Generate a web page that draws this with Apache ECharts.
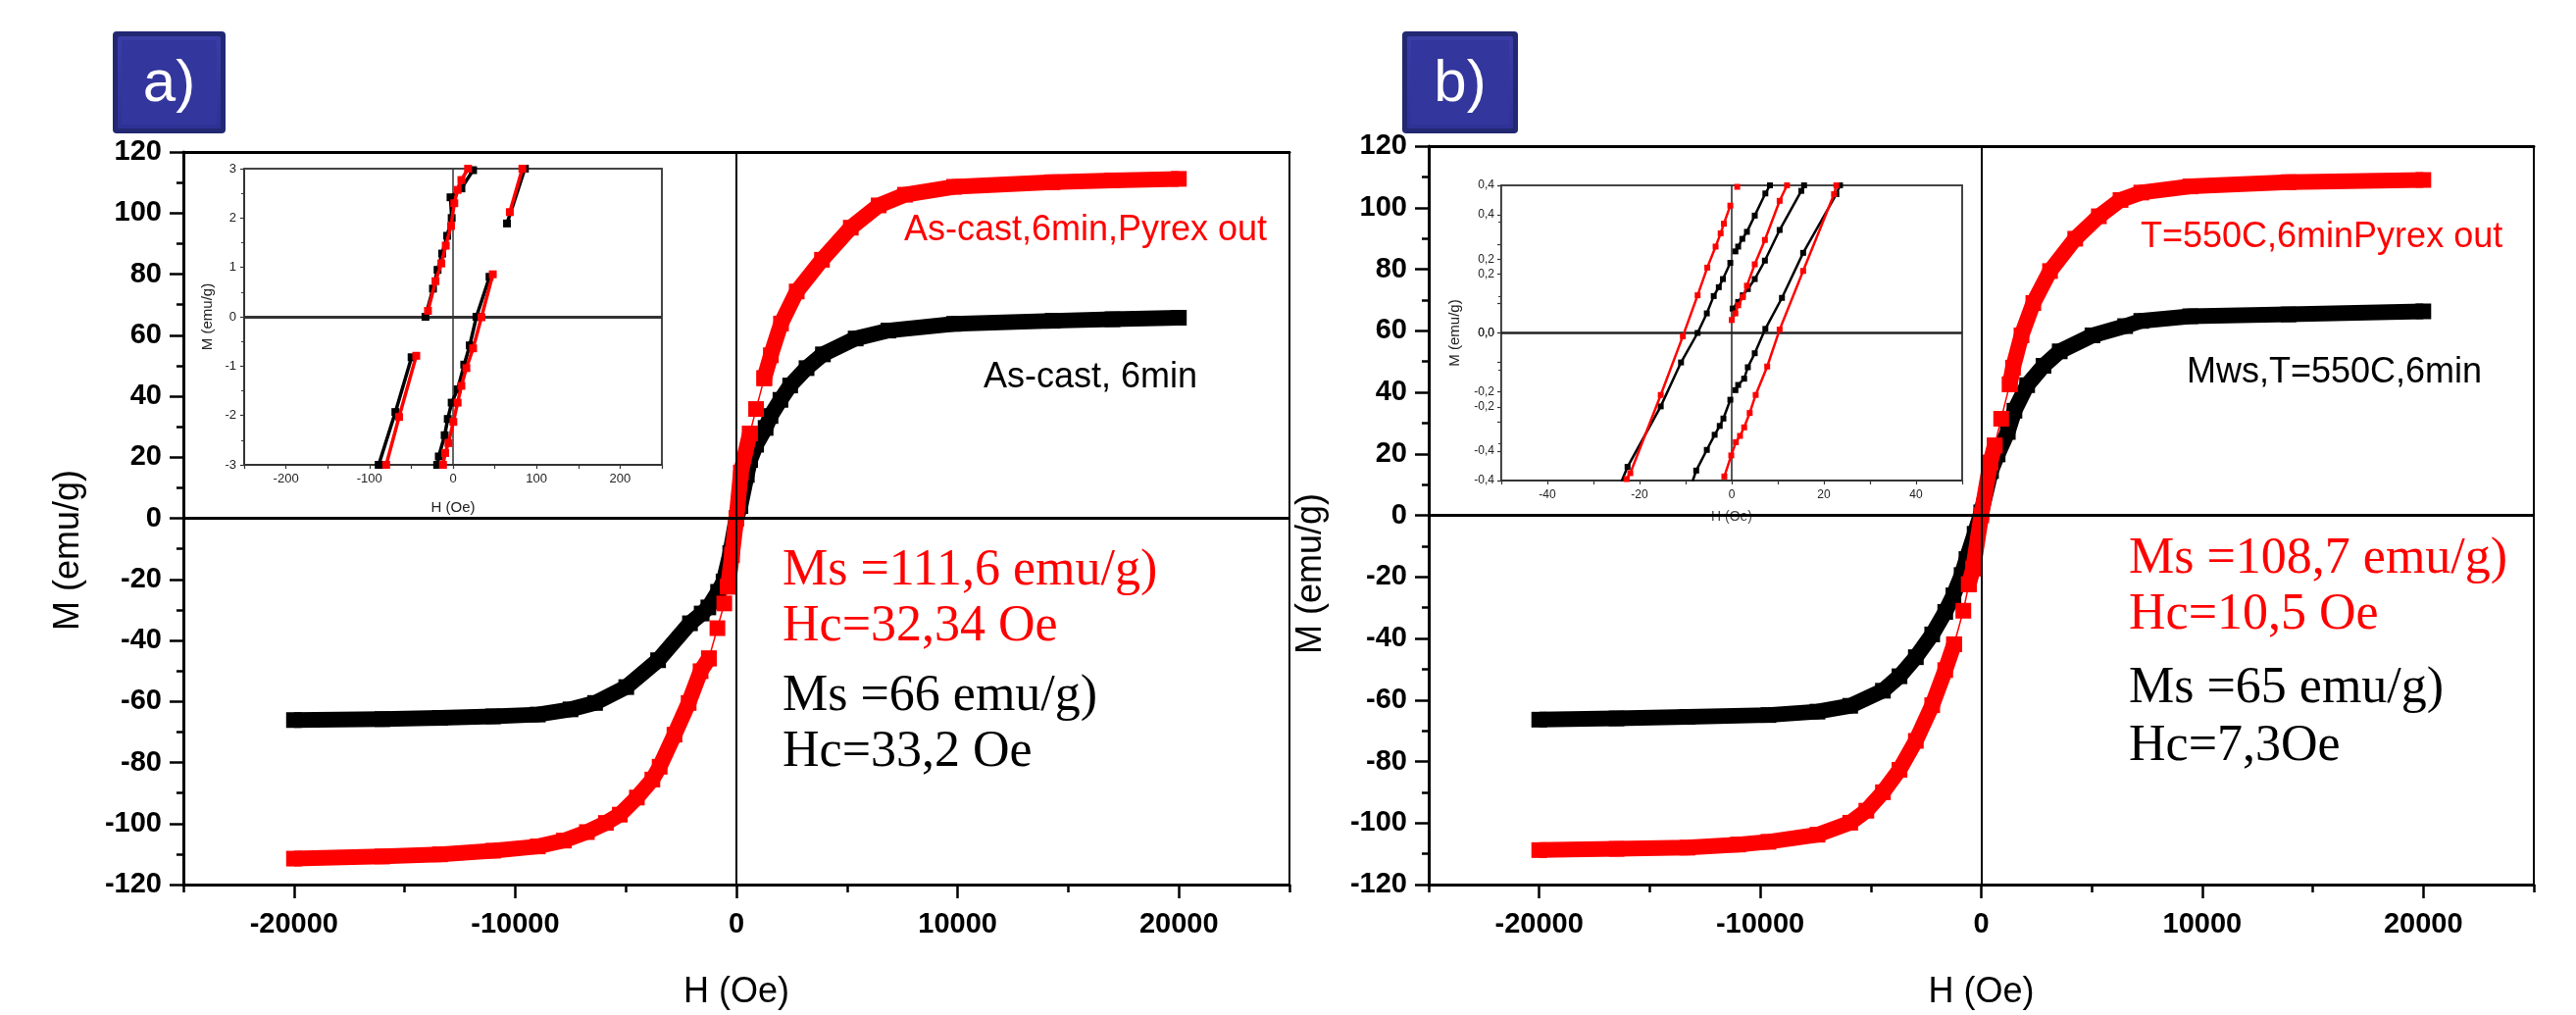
<!DOCTYPE html>
<html><head><meta charset="utf-8">
<script src="https://cdn.jsdelivr.net/npm/echarts@6/dist/echarts.min.js"></script>
<style>html,body{margin:0;padding:0;background:#fff}#c{width:2627px;height:1035px}</style>
</head><body><div id="c"></div>
<script>
// ---------------- DATA ----------------
// main-axis tick values
const H_TICKS_MAIN = [-20000, -10000, 0, 10000, 20000];
const H_MINOR_MAIN = [-25000, -15000, -5000, 5000, 15000, 25000];

// Panel a) main loop  [H (Oe), M (emu/g)]
const A_BLACK = [[-20000,-66.1],[-16000,-65.8],[-13400,-65.4],[-11000,-64.9],[-8980,-64.3],[-7500,-62.6],[-6390,-60.5],[-4980,-55.3],[-3540,-46.5],[-2100,-34.4],[-1570,-31.2],[-1270,-29.2],[-830,-24.1],[-580,-20.7],[-280,-11.4],[0,0],[180,4],[470,14.2],[620,19.1],[890,24.1],[1320,29.6],[1540,33.5],[1990,38.8],[2430,43.5],[3170,49.2],[3910,53.7],[5390,58.9],[6870,61.5],[9840,63.7],[14300,64.7],[17000,65.2],[20000,65.7]];
const A_RED_NEG = [[-20000,-111.5],[-16000,-110.8],[-13400,-110.1],[-11000,-108.9],[-8980,-107.5],[-7800,-105.6],[-6760,-102.8],[-5900,-99.8],[-5270,-97.1],[-4500,-91.5],[-3800,-85.6],[-3470,-81.4],[-2800,-70.9],[-2160,-60.5],[-1620,-50.1],[-1244,-45.9]];
const A_RED_GAP1 = [[-1244,-45.9],[-859,-36.0],[-548,-27.9],[-385,-22.4]];
const A_RED_MID = [[-385,-22.4],[-200,-12.0],[0,0],[200,15.0],[607,27.8]];
const A_RED_GAP2 = [[607,27.8],[889,35.8],[1259,45.9]];
const A_RED_POS = [[1259,45.9],[1556,53.4],[2015,63.8],[2726,74.3],[3867,84.7],[5170,95.2],[6430,102.5],[7620,106.0],[9840,108.6],[14280,110.1],[17000,110.7],[20000,111.2]];

// Panel a) inset (low-field detail)
const IA_BLK_1 = [[24,2.97],[10,2.6],[-3,2.42],[-1.6,2.0],[-7,1.64],[-13,1.28],[-18.5,0.95],[-24,0.57],[-33,0.0]];
const IA_BLK_2 = [[86,3.0],[64.6,1.89]];
const IA_BLK_3 = [[43.7,0.81],[28,0],[20,-0.58],[13.4,-0.97],[5.5,-1.47],[-1.6,-1.74],[-6.3,-2.07],[-10,-2.4],[-17,-2.83],[-19,-3]];
const IA_BLK_4 = [[-49.6,-0.82],[-69,-1.93],[-89,-3]];
const IA_RED_1 = [[18,3.0],[10,2.77],[5.5,2.57],[1.5,2.3],[-2.4,1.84],[-8.7,1.44],[-14,1.08],[-21,0.72],[-30,0.12]];
const IA_RED_2 = [[83,3.0],[68,2.12]];
const IA_RED_3 = [[47.6,0.86],[34,-0.01],[24,-0.64],[16,-1.04],[10,-1.4],[5.5,-1.74],[0.4,-2.13],[-5.5,-2.56],[-9.4,-2.76],[-12,-3]];
const IA_RED_4 = [[-44,-0.79],[-64.6,-2.03],[-80,-3]];

// Panel b) main loop
const B_BLACK = [[-20000,-66.4],[-16500,-66.0],[-13300,-65.5],[-9630,-64.9],[-7410,-63.8],[-5930,-61.9],[-4450,-57.0],[-3700,-52.3],[-2960,-46.1],[-2220,-38.7],[-1630,-31.4],[-1260,-26.0],[-890,-19.4],[-670,-14.2],[-300,-6.0],[0,1.0],[440,14.4],[740,19.8],[1200,27.1],[1500,34.0],[2075,42.3],[2815,48.6],[3550,53.3],[5030,58.5],[6510,61.5],[7240,63.2],[9460,64.7],[13900,65.3],[20000,66.3]];
const B_RED_NEG = [[-20000,-108.8],[-16500,-108.4],[-13300,-108.0],[-11000,-107.0],[-9630,-106.1],[-7410,-103.8],[-5930,-99.9],[-5200,-96.0],[-4450,-90.0],[-3700,-82.7],[-2960,-73.3],[-2220,-61.7],[-1630,-50.3],[-1230,-41.9]];
const B_RED_GAP1 = [[-1230,-41.9],[-812,-31.0],[-562,-22.4]];
const B_RED_MID = [[-562,-22.4],[-370,-17.3],[0,0],[413,17.2],[608,22.7]];
const B_RED_GAP2 = [[608,22.7],[900,31.4],[1290,42.6]];
const B_RED_POS = [[1290,42.6],[1436,48.0],[1820,58.5],[2355,69.0],[3110,79.4],[4250,89.9],[5320,97.2],[6300,102.5],[7240,104.9],[9460,106.9],[13900,108.3],[20000,109.0]];

// Panel b) inset
const IB_BLK_1 = [[-23.9,-0.402],[-22.6,-0.363],[-15.4,-0.199],[-11.0,-0.080],[-7.4,0],[-5.4,0.053],[-3.9,0.100],[-2.8,0.124],[-1.9,0.146],[-0.3,0.190]];
const IB_BLK_2 = [[0.8,0.221],[1.4,0.234],[2.3,0.255],[3.3,0.274],[5.0,0.318],[7.3,0.378],[8.3,0.40]];
const IB_BLK_3 = [[-8.5,-0.402],[-7.7,-0.373],[-5.4,-0.317],[-3.7,-0.276],[-2.6,-0.252],[-1.8,-0.232],[-0.3,-0.181]];
const IB_BLK_4 = [[0.8,-0.155],[1.4,-0.141],[2.7,-0.124],[3.5,-0.093],[5.0,-0.055],[7.3,0.011],[10.9,0.095],[15.5,0.217],[22.7,0.376],[23.5,0.40]];
const IB_BLK_5 = [[0.2,0.066],[1.4,0.084],[2.4,0.102],[3.5,0.119],[5.0,0.146],[7.2,0.196],[10.4,0.279],[15.1,0.385],[15.7,0.40]];
const IB_RED_1 = [[-22.8,-0.396],[-22.0,-0.380],[-15.4,-0.168],[-10.6,-0.009],[-7.4,0.102],[-5.3,0.177],[-3.5,0.234],[-2.4,0.270],[-1.7,0.296],[-0.3,0.345]];
const IB_RED_2 = [[1.2,0.396]];
const IB_RED_3 = [[0,0.035],[0.8,0.053],[1.4,0.075],[2.4,0.097],[3.3,0.128],[5.0,0.186],[7.2,0.252],[10.4,0.358],[12.0,0.40]];
const IB_RED_4 = [[-1.6,-0.389],[-0.1,-0.332],[0.9,-0.296],[1.8,-0.279],[2.7,-0.256],[3.9,-0.217],[5.2,-0.168],[7.7,-0.091],[10.4,0.009],[15.5,0.168],[22.2,0.376],[22.7,0.40]];

// annotation texts
const A_LABEL_RED = 'As-cast,6min,Pyrex out';
const A_LABEL_BLK = 'As-cast, 6min';
const B_LABEL_RED = 'T=550C,6minPyrex out';
const B_LABEL_BLK = 'Mws,T=550C,6min';
const A_INFO_RED = ['Ms =111,6 emu/g)', 'Hc=32,34 Oe'];
const A_INFO_BLK = ['Ms =66 emu/g)', 'Hc=33,2 Oe'];
const B_INFO_RED = ['Ms =108,7 emu/g)', 'Hc=10,5 Oe'];
const B_INFO_BLK = ['Ms =65 emu/g)', 'Hc=7,3Oe'];

// ---------------- CHART ----------------
const SANS = '"Liberation Sans", Arial, sans-serif';
const SERIF = '"Liberation Serif", "Times New Roman", serif';
const RED = '#ff0000', BLK = '#000000';
const BAND = 16;

const chart = echarts.init(document.getElementById('c'), null, {renderer: 'canvas'});

function comma(v) {
  const r = Math.round(v * 10) / 10;
  return (Math.abs(r) < 1e-9 ? 0 : r).toFixed(1).replace('.', ',');
}

function ser(data, color, xi, yi, lw, sz, z) {
  return {
    type: 'line', xAxisIndex: xi, yAxisIndex: yi, data: data,
    symbol: 'rect', symbolSize: sz, showSymbol: true,
    lineStyle: {color: color, width: lw, cap: 'butt', join: 'miter'},
    itemStyle: {color: color, borderWidth: 0},
    silent: true, animation: false, z: z || 2, emphasis: {disabled: true}
  };
}
function zeroLines(xi, yi, c, wy, wx) {
  return {
    type: 'line', xAxisIndex: xi, yAxisIndex: yi, data: [], silent: true, animation: false, z: 1,
    markLine: {
      silent: true, symbol: ['none', 'none'], label: {show: false}, animation: false,
      data: [
        {yAxis: 0, lineStyle: {color: c, width: wy, type: 'solid'}},
        {xAxis: 0, lineStyle: {color: c, width: wx, type: 'solid'}}
      ]
    }
  };
}
function lineOnly(grid, pos, min, max, w, c) {
  return {
    gridIndex: grid, type: 'value', position: pos, min: min, max: max,
    axisLine: {show: true, onZero: false, lineStyle: {color: c, width: w}},
    axisTick: {show: false}, axisLabel: {show: false}, splitLine: {show: false}
  };
}

const mainX = (grid) => ({
  gridIndex: grid, type: 'value', position: 'bottom', min: -25000, max: 25000,
  axisLine: {show: true, onZero: false, lineStyle: {color: '#000', width: 3}},
  axisTick: {show: true, customValues: H_TICKS_MAIN, length: 14, lineStyle: {color: '#000', width: 2.5}},
  axisLabel: {show: true, customValues: H_TICKS_MAIN, fontSize: 29, fontWeight: 'bold', fontFamily: SANS, color: '#000', margin: 26,
    formatter: v => String(Math.round(v))},
  splitLine: {show: false},
  name: 'H (Oe)', nameLocation: 'middle', nameGap: 92,
  nameTextStyle: {fontSize: 36, fontFamily: SANS, color: '#000'}
});
const mainXMinor = (grid) => ({
  gridIndex: grid, type: 'value', position: 'bottom', min: -25000, max: 25000,
  axisLine: {show: false, onZero: false},
  axisTick: {show: true, customValues: H_MINOR_MAIN, length: 8, lineStyle: {color: '#000', width: 2.5}},
  axisLabel: {show: false}, splitLine: {show: false}
});
const mainY = (grid) => ({
  gridIndex: grid, type: 'value', position: 'left', min: -120, max: 120, interval: 20,
  axisLine: {show: true, onZero: false, lineStyle: {color: '#000', width: 3}},
  axisTick: {show: true, length: 14, lineStyle: {color: '#000', width: 2.5}},
  minorTick: {show: true, splitNumber: 2, length: 7, lineStyle: {color: '#000', width: 2.5}},
  axisLabel: {fontSize: 29, fontWeight: 'bold', fontFamily: SANS, color: '#000', margin: 22},
  splitLine: {show: false}
});

const option = {
  backgroundColor: '#ffffff',
  animation: false,
  grid: [
    {left: 187, top: 155, width: 1128, height: 766, containLabel: false},
    {left: 249, top: 172, width: 426, height: 302, containLabel: false, show: true, backgroundColor: '#fff', borderWidth: 0},
    {left: 1457, top: 149, width: 1127, height: 766, containLabel: false},
    {left: 1531, top: 189, width: 470, height: 301, containLabel: false, show: true, backgroundColor: '#fff', borderWidth: 0}
  ],
  xAxis: [
    mainX(0),                                                    // 0
    mainXMinor(0),                                               // 1
    lineOnly(0, 'top', -25000, 25000, 3, '#000'),                // 2
    {                                                            // 3 inset a
      gridIndex: 1, type: 'value', position: 'bottom', min: -250, max: 250, interval: 50,
      axisLine: {show: true, onZero: false, lineStyle: {color: '#333', width: 2}},
      axisTick: {show: true, length: 4, lineStyle: {color: '#333', width: 1.2}},
      axisLabel: {fontSize: 13, fontFamily: SANS, color: '#222', margin: 8,
        formatter: v => (Math.round(v) % 100 === 0 ? String(Math.round(v)) : '')},
      splitLine: {show: false},
      name: 'H (Oe)', nameLocation: 'middle', nameGap: 36,
      nameTextStyle: {fontSize: 15, fontFamily: SANS, color: '#222'}
    },
    lineOnly(1, 'top', -250, 250, 2, '#444'),                    // 4
    mainX(2),                                                    // 5
    mainXMinor(2),                                               // 6
    lineOnly(2, 'top', -25000, 25000, 3, '#000'),                // 7
    {                                                            // 8 inset b
      gridIndex: 3, type: 'value', position: 'bottom', min: -50, max: 50, interval: 10,
      axisLine: {show: true, onZero: false, lineStyle: {color: '#333', width: 2}},
      axisTick: {show: true, length: 4, lineStyle: {color: '#333', width: 1.2}},
      axisLabel: {fontSize: 12, fontFamily: SANS, color: '#222', margin: 9,
        formatter: v => (Math.round(v) % 20 === 0 ? String(Math.round(v)) : '')},
      splitLine: {show: false},
      name: 'H (Oe)', nameLocation: 'middle', nameGap: 30,
      nameTextStyle: {fontSize: 14, fontFamily: SANS, color: '#444'}
    },
    lineOnly(3, 'top', -50, 50, 2, '#444')                       // 9
  ],
  yAxis: [
    mainY(0),                                                    // 0
    lineOnly(0, 'right', -120, 120, 2, '#000'),                  // 1
    {                                                            // 2 inset a
      gridIndex: 1, type: 'value', position: 'left', min: -3, max: 3, interval: 1,
      axisLine: {show: true, onZero: false, lineStyle: {color: '#333', width: 2}},
      axisTick: {show: true, length: 4, lineStyle: {color: '#333', width: 1.2}},
      minorTick: {show: true, splitNumber: 2, length: 3, lineStyle: {color: '#333', width: 1}},
      axisLabel: {fontSize: 13, fontFamily: SANS, color: '#222', margin: 8},
      splitLine: {show: false},
      name: 'M (emu/g)', nameLocation: 'middle', nameGap: 30,
      nameTextStyle: {fontSize: 15, fontFamily: SANS, color: '#222'}
    },
    lineOnly(1, 'right', -3, 3, 2, '#444'),                      // 3
    mainY(2),                                                    // 4
    lineOnly(2, 'right', -120, 120, 2, '#000'),                  // 5
    {                                                            // 6 inset b (primary)
      gridIndex: 3, type: 'value', position: 'left', min: -0.4, max: 0.4, interval: 0.2,
      axisLine: {show: true, onZero: false, lineStyle: {color: '#333', width: 2}},
      axisTick: {show: true, length: 4, lineStyle: {color: '#333', width: 1.2}},
      minorTick: {show: true, splitNumber: 2, length: 3, lineStyle: {color: '#333', width: 1}},
      axisLabel: {fontSize: 12, fontFamily: SANS, color: '#222', margin: 7, formatter: comma},
      splitLine: {show: false},
      name: 'M (emu/g)', nameLocation: 'middle', nameGap: 40,
      nameTextStyle: {fontSize: 15, fontFamily: SANS, color: '#222'}
    },
    {                                                            // 7 inset b (secondary overlapping scale)
      gridIndex: 3, type: 'value', position: 'left', min: -0.5, max: 0.5, interval: 0.1,
      axisLine: {show: true, onZero: false, lineStyle: {color: '#555', width: 1}},
      axisTick: {show: true, length: 4, lineStyle: {color: '#333', width: 1.2}},
      axisLabel: {fontSize: 12, fontFamily: SANS, color: '#222', margin: 7,
        formatter: v => { const k = Math.round(v * 10); return (k % 2 === 0 && Math.abs(k) <= 4) ? comma(k / 10) : ''; }},
      splitLine: {show: false}
    },
    lineOnly(3, 'right', -0.4, 0.4, 2, '#444')                   // 8
  ],
  series: [
    // panel a main
    zeroLines(0, 0, '#000', 3, 2),
    ser(A_BLACK, BLK, 0, 0, BAND, BAND, 3),
    ser(A_RED_NEG, RED, 0, 0, BAND, BAND, 4),
    ser(A_RED_MID, RED, 0, 0, BAND, BAND, 4),
    ser(A_RED_POS, RED, 0, 0, BAND, BAND, 4),
    ser(A_RED_GAP1, RED, 0, 0, 1.5, BAND, 4),
    ser(A_RED_GAP2, RED, 0, 0, 1.5, BAND, 4),
    // panel a inset
    zeroLines(3, 2, '#333', 3, 1.5),
    ser(IA_BLK_1, BLK, 3, 2, 3.5, 8, 5),
    ser(IA_BLK_2, BLK, 3, 2, 3.5, 8, 5),
    ser(IA_BLK_3, BLK, 3, 2, 3.5, 8, 5),
    ser(IA_BLK_4, BLK, 3, 2, 3.5, 8, 5),
    ser(IA_RED_1, RED, 3, 2, 3.5, 8, 6),
    ser(IA_RED_2, RED, 3, 2, 3.5, 8, 6),
    ser(IA_RED_3, RED, 3, 2, 3.5, 8, 6),
    ser(IA_RED_4, RED, 3, 2, 3.5, 8, 6),
    // panel b main
    zeroLines(5, 4, '#000', 3, 2),
    ser(B_BLACK, BLK, 5, 4, BAND, BAND, 3),
    ser(B_RED_NEG, RED, 5, 4, BAND, BAND, 4),
    ser(B_RED_MID, RED, 5, 4, BAND, BAND, 4),
    ser(B_RED_POS, RED, 5, 4, BAND, BAND, 4),
    ser(B_RED_GAP1, RED, 5, 4, 1.5, BAND, 4),
    ser(B_RED_GAP2, RED, 5, 4, 1.5, BAND, 4),
    // panel b inset
    zeroLines(8, 6, '#222', 2.5, 1.5),
    ser(IB_BLK_1, BLK, 8, 6, 2.5, 6, 5),
    ser(IB_BLK_2, BLK, 8, 6, 2.5, 6, 5),
    ser(IB_BLK_3, BLK, 8, 6, 2.5, 6, 5),
    ser(IB_BLK_4, BLK, 8, 6, 2.5, 6, 5),
    ser(IB_BLK_5, BLK, 8, 6, 2.5, 6, 5),
    ser(IB_RED_1, RED, 8, 6, 2.5, 6, 6),
    ser(IB_RED_2, RED, 8, 6, 2.5, 6, 6),
    ser(IB_RED_3, RED, 8, 6, 2.5, 6, 6),
    ser(IB_RED_4, RED, 8, 6, 2.5, 6, 6)
  ],
  graphic: []
};

function txt(x, y, s, font, fill, align, rot) {
  return {
    type: 'text', x: x, y: y, rotation: rot || 0, silent: true, z: 100,
    style: {text: s, font: font, fill: fill, textAlign: align || 'left', textVerticalAlign: 'middle', verticalAlign: 'middle'}
  };
}
function badge(x, y, w, h, label) {
  return {
    type: 'group', silent: true, z: 100, children: [
      {type: 'rect', shape: {x: x, y: y, width: w, height: h, r: 4}, style: {fill: '#222872'}},
      {type: 'rect', shape: {x: x + 5, y: y + 5, width: w - 10, height: h - 10, r: 2},
        style: {fill: new echarts.graphic.LinearGradient(0, 0, 0, 1, [{offset: 0, color: '#3a3da6'}, {offset: 1, color: '#2e3194'}])}},
      {type: 'rect', shape: {x: x + 9, y: y + 9, width: w - 18, height: h - 18}, style: {fill: '#33369c'}},
      {type: 'text', x: x + w / 2, y: y + h / 2 + 2,
        style: {text: label, font: '60px ' + SANS, fill: '#ffffff', textAlign: 'center', textVerticalAlign: 'middle', verticalAlign: 'middle'}}
    ]
  };
}

const F_SANS = '36px ' + SANS;
const F_SERIF = '52px ' + SERIF;
option.graphic = [
  badge(115, 32, 115, 104, 'a)'),
  badge(1430, 32, 118, 104, 'b)'),
  txt(70, 561, 'M (emu/g)', F_SANS, '#000', 'center', Math.PI / 2),
  txt(1337, 585, 'M (emu/g)', F_SANS, '#000', 'center', Math.PI / 2),
  txt(922, 235, A_LABEL_RED, F_SANS, RED),
  txt(1003, 385, A_LABEL_BLK, F_SANS, BLK),
  txt(2183, 242, B_LABEL_RED, F_SANS, RED),
  txt(2230, 380, B_LABEL_BLK, F_SANS, BLK),
  txt(798, 582, A_INFO_RED[0], F_SERIF, RED),
  txt(798, 639, A_INFO_RED[1], F_SERIF, RED),
  txt(798, 710, A_INFO_BLK[0], F_SERIF, BLK),
  txt(798, 767, A_INFO_BLK[1], F_SERIF, BLK),
  txt(2171, 570, B_INFO_RED[0], F_SERIF, RED),
  txt(2171, 627, B_INFO_RED[1], F_SERIF, RED),
  txt(2171, 702, B_INFO_BLK[0], F_SERIF, BLK),
  txt(2171, 761, B_INFO_BLK[1], F_SERIF, BLK)
];

chart.setOption(option);
</script>
</body></html>
